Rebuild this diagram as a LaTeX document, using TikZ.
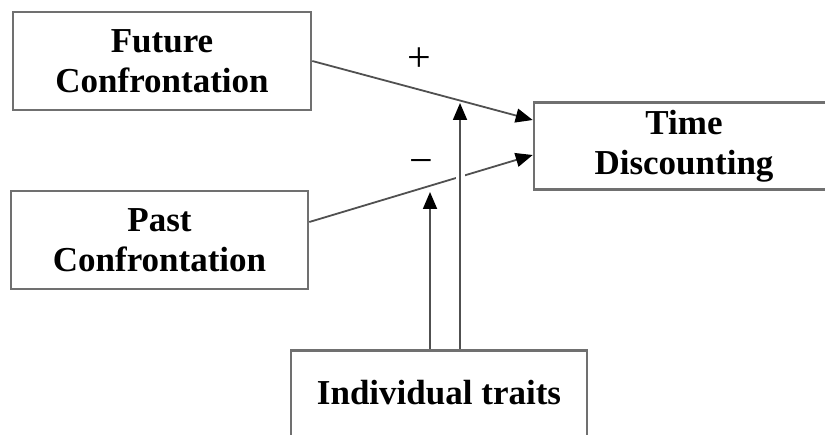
\documentclass[tikz,border=0pt]{standalone}
\usepackage{fontspec}
\setmainfont{Liberation Serif}
\usetikzlibrary{arrows.meta, positioning, calc}
\definecolor{boxgray}{HTML}{707070}
\definecolor{linegray}{HTML}{505050}
\tikzset{
  var/.style={draw=boxgray, line width=1.3pt, fill=white, align=center,
              font=\fontsize{17.5}{20}\selectfont\bfseries, inner sep=0pt},
  link/.style={-{Triangle[length=8.5pt, width=7pt, color=black]}, draw=linegray, line width=0.9pt},
  sign/.style={font=\fontsize{21}{24}\selectfont},
}

\begin{document}
\begin{tikzpicture}[x=0.5pt, y=0.5pt]
  \useasboundingbox (0,0) rectangle (825,434);
  \node (fut)    [var, minimum width=149pt, minimum height=49pt] at (162,373) {Future\\Confrontation};
  \node (past)   [var, minimum width=148.5pt, minimum height=49pt] at (159.5,194) {Past\\Confrontation};
  \node (time)   [var, minimum width=150pt, minimum height=43.5pt] at (684,288) {Time\\Discounting};
  \node (traits) [var, anchor=north, minimum width=148pt, text depth=30pt, inner ysep=15pt] at (439,85) {Individual traits};
  % arrow ends
  \coordinate (tin1) at ($(time.west)+(0,26)$);
  \coordinate (tin2) at ($(time.west)+(0,-9)$);
  \coordinate (pout) at ($(past.east)+(0,18)$);
  \coordinate (m1) at (430,242);
  \coordinate (m2) at (460,331);
  \draw[link] (fut.east) -- (tin1);
  \draw[link] (pout) -- (tin2);
  \draw[link] (traits.north -| m1) -- (m1);
  \draw[link, preaction={draw=white, line width=4.5pt, -, shorten <=20pt}] (traits.north -| m2) -- (m2);
  \node (plus)  [sign] at (419,374) {+};
  \node (minus) [sign] at (421,267) {−};
\end{tikzpicture}
\end{document}
